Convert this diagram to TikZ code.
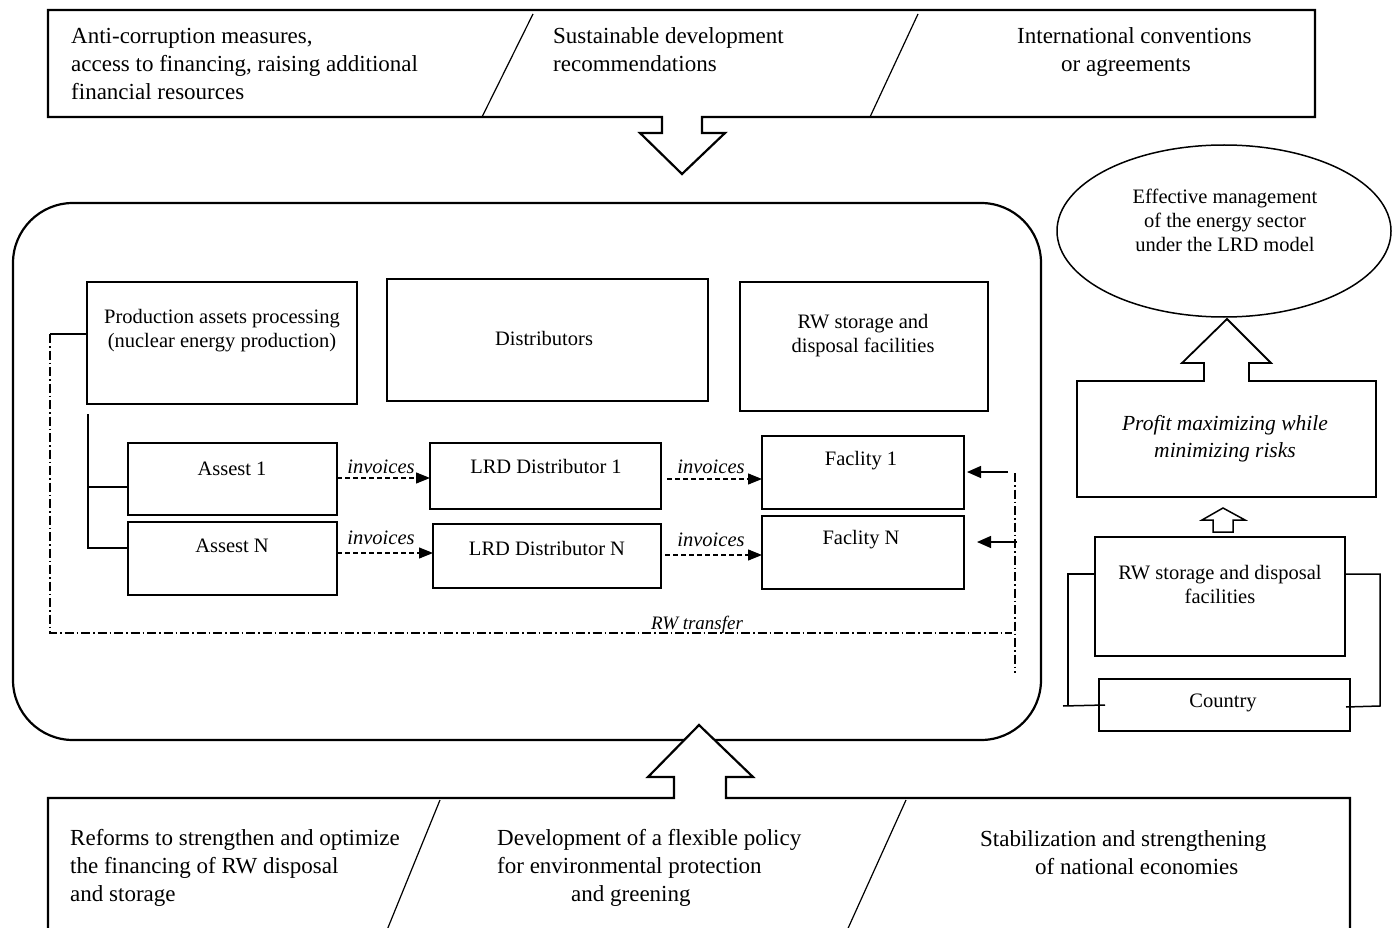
\documentclass[tikz,border=0pt]{standalone}
\usepackage{fontspec}
\setmainfont{Liberation Serif}
\usetikzlibrary{arrows.meta,shapes.geometric}
\begin{document}
\begin{tikzpicture}[x=1pt,y=-1pt,
  bx/.style 2 args={draw,line width=1.5pt,minimum width=#1,minimum height=#2,inner sep=0pt,outer sep=0pt},
  txt/.style={font=\fontsize{20.5}{24}\selectfont,inner sep=0pt,align=center},
  itx/.style={font=\fontsize{20.5}{26}\selectfont\itshape,inner sep=0pt,align=center},
  bigtxt/.style={font=\fontsize{23}{28}\selectfont,inner sep=0pt,align=left,anchor=west},
  thickline/.style={line width=2.2pt,line join=miter},
  invarrow/.style={line width=1.2pt,dash pattern=on 5pt off 3pt,-{Triangle[length=14pt,width=11pt]}},
  rwarrow/.style={line width=1.3pt,-{Triangle[length=14pt,width=12pt]}},
  rwline/.style={line width=1.2pt,dash pattern=on 9pt off 3pt on 1.5pt off 3pt},
  conn/.style={line width=1.5pt}]
\useasboundingbox (0,0) rectangle (1393,928);

% ---------- top box with down arrow ----------
\draw[thickline] (48,10) -- (1315,10) -- (1315,117) -- (702,117) -- (702,133) -- (725,133)
  -- (682,174) -- (640,133) -- (662,133) -- (662,117) -- (48,117) -- cycle;
\draw[line width=1.2pt] (533,14) -- (482,117);
\draw[line width=1.2pt] (918,14) -- (870,117);
\node[bigtxt] (t1) at (71,64) {Anti-corruption measures,\\access to financing, raising additional\\financial resources};
\node[bigtxt] (t2) at (553,49.5) {Sustainable development\\recommendations};
\node[bigtxt] (t3) at (1017,52.5) {International conventions\\\hspace*{44pt}or agreements};

% ---------- main rounded frame ----------
\node[draw,line width=2.2pt,rounded corners=60pt,minimum width=1028,minimum height=537,inner sep=0pt] (frame) at (527,471.5) {};

% upper boxes
\node[bx={270}{122}] (prod) at (222,343) {};
\node[txt] (prodt) at (222,331) {Production assets processing\\(nuclear energy production)};
\node[bx={321}{122}] (dist) at (547.5,340) {};
\node[txt] (distt) at (544,338) {Distributors};
\node[bx={248}{129}] (rws) at (864,346.5) {};
\node[txt] (rwst) at (863,335.5) {RW storage and\\disposal facilities};

% lower boxes
\node[bx={209}{72}] (a1) at (232.5,479) {};
\node[txt] (a1t) at (232,469) {Assest 1};
\node[bx={209}{73}] (aN) at (232.5,558.5) {};
\node[txt] (aNt) at (232,546) {Assest N};
\node[bx={231}{66}] (d1) at (545.5,476) {};
\node[txt] (d1t) at (546,466) {LRD Distributor 1};
\node[bx={228}{64}] (dN) at (547,556) {};
\node[txt] (dNt) at (547,548) {LRD Distributor N};
\node[bx={202}{73}] (f1) at (863,472.5) {};
\node[txt] (f1t) at (861,461) {Faclity 1};
\node[bx={202}{73}] (fN) at (863,552.5) {};
\node[txt] (fNt) at (861,540) {Faclity N};

% tree from production
\coordinate (tr0) at (88,414);
\coordinate (tr1) at (88,487);
\coordinate (tr2) at (88,548);
\draw[conn] (tr0) -- (tr2) -- (tr2 -| aN.west);
\draw[conn] (tr1) -- (tr1 -| a1.west);

% invoices arrows
\coordinate (i1) at ([yshift=1pt]a1.east);
\draw[invarrow] (i1) -- (i1 -| d1.west);
\coordinate (iN) at ([yshift=5.5pt]aN.east);
\draw[invarrow] (iN) -- (iN -| dN.west);
\coordinate (j1) at ([yshift=-3pt]d1.east);
\draw[invarrow] ([xshift=6pt]j1) -- (j1 -| f1.west);
\coordinate (jN) at ([yshift=1pt]dN.east);
\draw[invarrow] ([xshift=4pt]jN) -- (jN -| fN.west);
\node[itx] (inv1) at (381,467) {invoices};
\node[itx] (inv2) at (381,538) {invoices};
\node[itx] (inv3) at (711,467) {invoices};
\node[itx] (inv4) at (711,540) {invoices};

% RW transfer loop
\coordinate (pl) at (50,334);
\coordinate (pb) at (50,633);
\coordinate (pr) at (1012,633);
\draw[conn] (prod.west |- pl) -- (pl);
\draw[rwline] (pl) -- (pb) -- (pr);
\coordinate (vt) at (1015,473);
\coordinate (vb) at (1015,673);
\draw[rwline] (vt) -- (vb);
\coordinate (r1) at (1008,472);
\coordinate (r2) at (1017,542);
\draw[rwarrow,shorten >=3pt] (r1) -- (r1 -| f1.east);
\draw[rwarrow,shorten >=13pt] (r2) -- (r2 -| fN.east);
\node[font=\fontsize{19}{22}\selectfont\itshape,inner sep=0pt] (rwt) at (697,625) {RW transfer};

% ---------- right column ----------
\node[draw,ellipse,line width=1.5pt,minimum width=334,minimum height=172,inner sep=0pt] (goal) at (1224,231) {};
\node[txt] (goalt) at (1225,220) {Effective management\\of the energy sector\\under the LRD model};

\node[bx={299}{116}] (profit) at (1226.5,439) {};
\node[itx,font=\fontsize{21.5}{27}\selectfont\itshape] (profitt) at (1225,439) {Profit maximizing while\\minimizing risks};
\fill[white] (1205,384) rectangle (1248,360);
\draw[line width=1.8pt] (1204,381) -- (1204,363) -- (1182,363) -- (1227,319) -- (1271,363) -- (1249,363) -- (1249,381);

\draw[line width=1.5pt] (1213,532) -- (1213,520) -- (1202,520) -- (1223,508) -- (1245,520) -- (1233,520) -- (1233,532) -- cycle;

\node[bx={250}{119}] (rw2) at (1220,596.5) {};
\node[txt] (rw2t) at (1220,584) {RW storage and disposal\\facilities};
\node[bx={251}{52}] (country) at (1224.5,705) {};
\node[txt] (countryt) at (1223,703) {Country};
\coordinate (cl) at (1068,574);
\coordinate (cr) at (1380,574);
\draw[conn] (cl -| rw2.west) -- (cl) -- (1068,706);
\draw[conn] (1063,706) -- (1105,705);
\draw[conn] (cr -| rw2.east) -- (cr) -- (1380,706) -- (1346,707);

% ---------- bottom box with up arrow ----------
\fill[white] (674,800) -- (674,777) -- (648,777) -- (699,725) -- (753,777) -- (726,777) -- (726,800) -- cycle;
\draw[thickline] (48,940) -- (48,798) -- (674,798) -- (674,777) -- (648,777) -- (699,725)
  -- (753,777) -- (726,777) -- (726,798) -- (1350,798) -- (1350,940);
\draw[line width=1.2pt] (440,800) -- (385,935);
\draw[line width=1.2pt] (906,800) -- (845,935);
\node[bigtxt] (b1) at (70,868) {Reforms to strengthen and optimize\\the financing of RW disposal\\and storage};
\node[bigtxt] (b2) at (497,868) {Development of a flexible policy\\for environmental protection\\\hspace*{74pt}and greening};
\node[bigtxt] (b3) at (980,853) {Stabilization and strengthening\\\hspace*{55pt}of national economies};
\end{tikzpicture}
\end{document}
